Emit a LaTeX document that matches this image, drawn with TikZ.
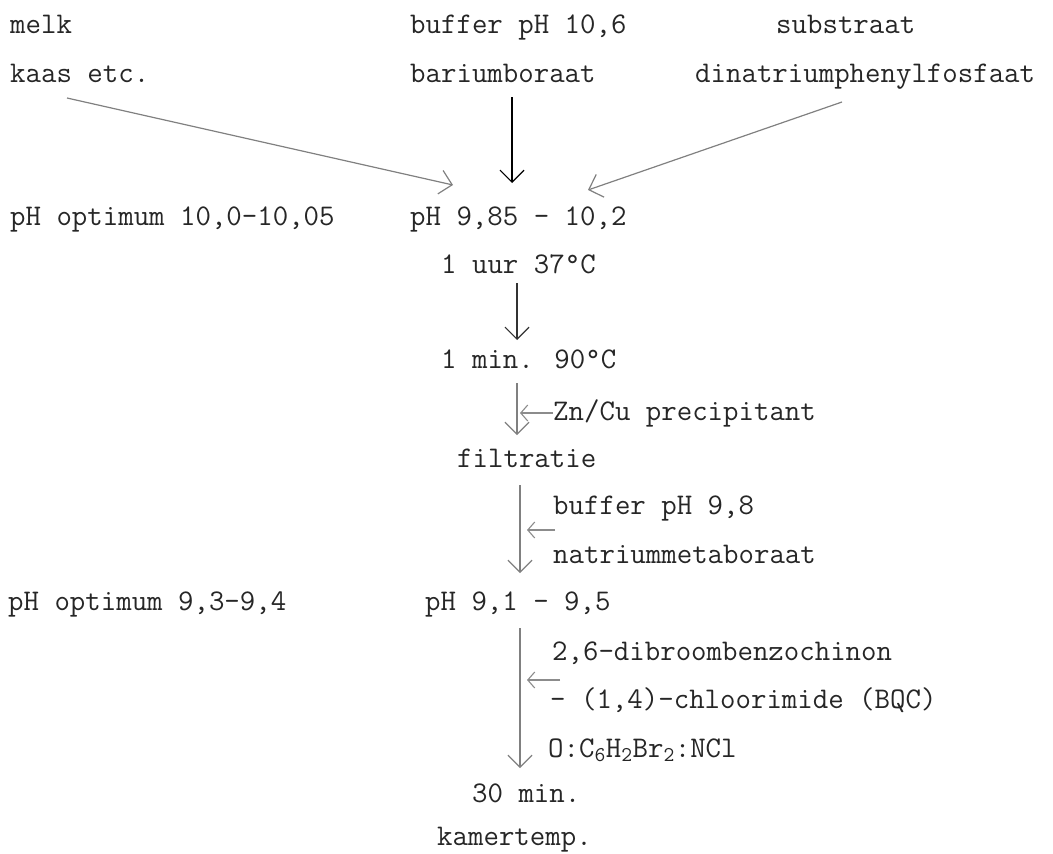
\documentclass[tikz,border=0pt]{standalone}
\usepackage{fontspec}
\usetikzlibrary{arrows.meta}

\begin{document}
\begin{tikzpicture}[x=1pt,y=-1pt,
every node/.style={anchor=base west,inner sep=0pt,text=black!85,
  font=\ttfamily\fontsize{30}{36}\selectfont},
flow/.style={draw=black!50,line width=1.2pt,
  -{Straight Barb[length=12pt,width=24pt,line width=1.2pt]}},
side/.style={draw=black!45,line width=1.1pt,
  -{Straight Barb[length=7pt,width=16pt,line width=1.1pt]}}]
\useasboundingbox (0,0) rectangle (1053,854);
% inputs
\node (melk) at (10,33) {melk};
\node (kaas) at (10,82) {kaas etc.};
\node (buf1) at (410,33) {buffer pH 10,6};
\node (barium) at (410,82) {bariumboraat};
\node (subs) at (776,33) {substraat};
\node (dina) at (695,82) {dinatriumphenylfosfaat};
% main column
\node (opt1) at (10,225) {pH optimum 10,0-10,05};
\node (ph1) at (410,225) {pH 9,85 - 10,2};
\node (uur) at (441,273) {1 uur 37°C};
\node (min) at (441,368) {1 min. 90°C};
\node (zncu) at (553,420) {Zn/Cu precipitant};
\node (filt) at (457,467) {filtratie};
\node (buf2) at (553,514) {buffer pH 9,8};
\node (natr) at (553,563) {natriummetaboraat};
\node (opt2) at (8,610) {pH optimum 9,3-9,4};
\node (ph2) at (425,610) {pH 9,1 - 9,5};
\node (bqc1) at (552,660) {2,6-dibroombenzochinon};
\node (bqc2) at (550,708) {- (1,4)-chloorimide (BQC)};
\node (bqc3) at (548,757) {O:C\textsubscript{6}H\textsubscript{2}Br\textsubscript{2}:NCl};
\node (dertig) at (472,802) {30 min.};
\node (kamer) at (437,845) {kamertemp.};
% arrow ends
\coordinate (a1) at (67,98);   \coordinate (b1) at (453,185);
\coordinate (a2) at (512,97);  \coordinate (b2) at (512,183);
\coordinate (a3) at (842,102); \coordinate (b3) at (588,190);
\coordinate (a4) at (517,283); \coordinate (b4) at (517,340);
\coordinate (a5) at (517,383); \coordinate (b5) at (517,435);
\coordinate (a6) at (520,485); \coordinate (b6) at (520,573);
\coordinate (a7) at (520,628); \coordinate (b7) at (520,768);
\draw[flow] (a1)--(b1);
\draw[flow,draw=black] (a2)--(b2);
\draw[flow] (a3)--(b3);
\draw[flow,draw=black!80] (a4)--(b4);
\draw[flow] (a5)--(b5);
\draw[flow] (a6)--(b6);
\draw[flow] (a7)--(b7);
\draw[side] (zncu.west|-0,413)--(520,413);
\draw[side] (555,530)--(527,530);
\draw[side] (560,680)--(527,680);
\end{tikzpicture}
\end{document}
